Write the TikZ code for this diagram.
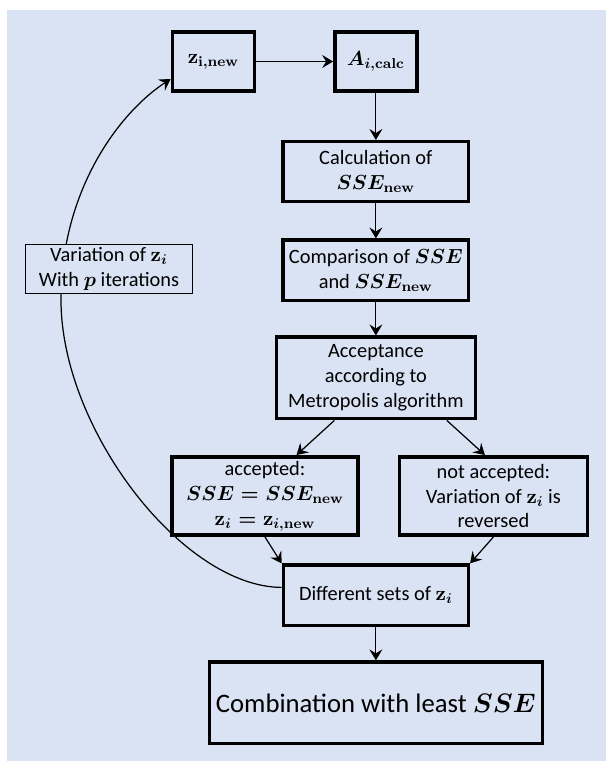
\RequirePackage{fix-cm}
\documentclass[tikz,border=0pt]{standalone}
\usepackage{amsmath}
\usepackage[no-math]{fontspec}
\setmainfont{Carlito}
\usepackage{tikz}
\usetikzlibrary{arrows.meta, positioning}
\definecolor{paleblue}{RGB}{218,227,243}

\begin{document}
\begin{tikzpicture}[
        x=0.02cm, y=-0.02cm,
        node distance=0.7cm,
        block/.style={rectangle, draw=black, fill=paleblue, minimum width=3.71cm, minimum height=1.2cm, align=center, inner sep=1pt, font=\fontsize{11.6}{14.2}\selectfont\boldmath, line width=0.07cm},
        smallblock/.style={block, minimum width=1.64cm, minimum height=1.19cm},
        thinblock/.style={block, line width=0.6pt, minimum width=3.34cm, minimum height=0.98cm},
        arrow/.style={-{Stealth[length=0.22cm, width=0.26cm, inset=0.08cm]}, line width=0.7pt, black}
    ]

    % Background
    \useasboundingbox (0,0) rectangle (606,761);
    \fill[paleblue] (7,10) rectangle (606,761);

    % Main loop
    \node[smallblock] at (213.4,61.5) (znew) {$\mathrm{z}_{\mathrm{i,new}}$};
    \node[smallblock, right=1.54cm of znew] (acalc) {$A_{i,\mathrm{calc}}$};
    \node[block, below=0.94cm of acalc] (calc) {Calculation of\\$SSE_{\mathrm{new}}$};
    \node[block, below=0.7cm of calc, minimum height=1.21cm] (comp) {Comparison of $SSE$\\and $SSE_{\mathrm{new}}$};
    \node[block, below=0.66cm of comp, minimum width=3.98cm, minimum height=1.63cm] (accept) {Acceptance\\according to\\Metropolis algorithm};

    % Decision
    \node[block, minimum width=3.73cm, minimum height=1.57cm] at (265,496) (acc) {accepted:\\$SSE=SSE_{\mathrm{new}}$\\$\mathrm{z}_i=\mathrm{z}_{i,\mathrm{new}}$};
    \node[block, minimum width=3.76cm, minimum height=1.57cm] at (493.4,496) (nacc) {not accepted:\\Variation of $\mathrm{z}_i$ is\\reversed};

    % Result
    \node[block, below=2.86cm of accept, minimum width=3.7cm, minimum height=1.21cm] (diff) {Different sets of $\mathrm{z}_i$};
    \node[block, below=0.66cm of diff, minimum width=6.66cm, minimum height=1.63cm, font=\fontsize{15.2}{18}\selectfont\boldmath] (comb) {Combination with least $SSE$};

    % Arrows
    \draw[arrow] (znew) -- (acalc);
    \draw[arrow] (acalc) -- (calc);
    \draw[arrow] (calc) -- (comp);
    \draw[arrow] (comp) -- (accept);
    \draw[arrow] ([xshift=-0.83cm]accept.south) -- ([xshift=0.63cm]acc.north);
    \draw[arrow] ([xshift=1.42cm]accept.south) -- ([xshift=-0.17cm]nacc.north);
    \draw[arrow] (acc.south) -- (diff.north west);
    \draw[arrow] (nacc.south) -- (diff.north east);
    \draw[arrow] (diff) -- (comb);

    % Loop back
    \draw[arrow] ([yshift=0.16cm]diff.west) .. controls (182.5,587) and (61,429) .. (61,300)
        .. controls (61,190) and (119.3,112.6) .. ([yshift=0.28cm]znew.south west);
    \node[thinblock] at (109,269.3) (var) {Variation of $\mathrm{z}_i$\\With $p$ iterations};

\end{tikzpicture}
\end{document}
